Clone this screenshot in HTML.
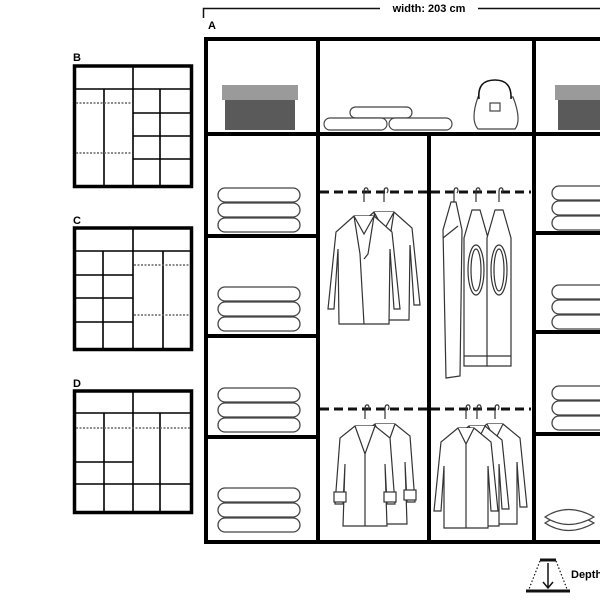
<!DOCTYPE html>
<html><head><style>html,body{margin:0;padding:0;background:#fff}svg{display:block}</style></head>
<body>
<svg width="600" height="600" viewBox="0 0 600 600" xmlns="http://www.w3.org/2000/svg" font-family="Liberation Sans, sans-serif">
<defs>
 <g id="towels" fill="#fff" stroke="#444" stroke-width="1.3">
  <rect x="0" y="30" width="82" height="14" rx="7"/>
  <rect x="0" y="15" width="82" height="14" rx="7"/>
  <rect x="0" y="0" width="82" height="14" rx="7"/>
 </g>
 <g id="hook" fill="none" stroke="#333" stroke-width="1.2"><path d="M0,12 L0,2 Q0,-3 3,-2 Q5,0 3,3"/></g>
 <g id="jacket" fill="#fff" stroke="#333" stroke-width="1.2">
  <path d="M-10,12 L-28,28 L-36,105 L-30,105 L-26,45 L-25,120 L25,120 L26,45 L30,105 L36,105 L28,28 L10,12 Z"/>
  <path d="M-10,12 L-4,50 L0,120 M10,12 L4,50 L0,55 M-10,12 L0,30 L10,12"/>
 </g>
 <g id="coat" fill="#fff" stroke="#333" stroke-width="1.2">
  <path d="M-10,12 L-25,24 L-30,90 L-22,90 L-20,50 L-22,112 L22,112 L20,50 L22,90 L30,90 L25,24 L10,12 Z"/>
  <path d="M-10,12 L0,40 L10,12 M0,40 L0,112"/>
  <rect x="-31" y="78" width="12" height="10"/><rect x="19" y="78" width="12" height="10"/>
 </g>
 <g id="shirt" fill="#fff" stroke="#333" stroke-width="1.2">
  <path d="M-8,12 L-25,26 L-32,95 L-25,95 L-22,50 L-22,112 L22,112 L22,50 L25,95 L32,95 L25,26 L8,12 Z"/>
  <path d="M-8,12 L0,28 L8,12 M0,28 L0,112"/>
 </g>
 <g id="sweater" fill="#fff" stroke="#333" stroke-width="1.2">
  <path d="M-4,12 L-12,40 L-12,168 L12,168 L12,40 L4,12 Z"/>
  <ellipse cx="0" cy="72" rx="8" ry="25"/><ellipse cx="0" cy="72" rx="5" ry="21"/>
  <path d="M-12,158 L12,158"/>
 </g>
</defs>

<path d="M203.5,18 L203.5,8.5 L380,8.5 M478,8.5 L600,8.5" stroke="#111" stroke-width="1.5" fill="none"/>
<text x="429" y="12" font-size="11" font-weight="bold" text-anchor="middle">width: 203 cm</text>
<text x="208" y="29" font-size="11" font-weight="bold">A</text>

<g stroke="#000" stroke-width="4" fill="none">
 <path d="M602,39 L206,39 L206,542 L602,542"/>
 <line x1="318" y1="39" x2="318" y2="542"/>
 <line x1="534" y1="39" x2="534" y2="542"/>
 <line x1="429" y1="134" x2="429" y2="542"/>
 <line x1="206" y1="134" x2="602" y2="134"/>
 <line x1="206" y1="236" x2="318" y2="236"/>
 <line x1="206" y1="336" x2="318" y2="336"/>
 <line x1="206" y1="437" x2="318" y2="437"/>
 <line x1="534" y1="233" x2="602" y2="233"/>
 <line x1="534" y1="332" x2="602" y2="332"/>
 <line x1="534" y1="434" x2="602" y2="434"/>
</g>

<rect x="222" y="85" width="76" height="15" fill="#9a9a9a"/>
<rect x="225" y="100" width="70" height="30" fill="#5a5a5a"/>
<rect x="555" y="85" width="50" height="15" fill="#9a9a9a"/>
<rect x="558" y="100" width="45" height="30" fill="#5a5a5a"/>
<g fill="#fff" stroke="#444" stroke-width="1.2">
 <rect x="350" y="107" width="62" height="11" rx="5.5"/>
 <rect x="324" y="118" width="63" height="12" rx="6"/>
 <rect x="389" y="118" width="63" height="12" rx="6"/>
 <path d="M478,97 L513,97 Q522,120 515,129 L478,129 Q470,120 478,97 Z"/>
 <path d="M479,99 Q477,80 495,80 Q512,80 511,99" stroke="#111" stroke-width="1.6"/>
 <rect x="490" y="103" width="10" height="8"/>
</g>

<use href="#towels" x="218" y="188"/>
<use href="#towels" x="218" y="287"/>
<use href="#towels" x="218" y="388"/>
<use href="#towels" x="218" y="488"/>
<use href="#towels" x="552" y="186"/>
<use href="#towels" x="552" y="285"/>
<use href="#towels" x="552" y="386"/>
<g fill="#fff" stroke="#444" stroke-width="1.2">
 <path d="M545,523 Q568,508 594,523 Q568,538 545,523 Z"/>
 <path d="M545,517 Q568,502 594,517 Q568,532 545,517 Z"/>
</g>

<g stroke="#111" stroke-width="3" stroke-dasharray="9,5">
 <line x1="320" y1="192" x2="427" y2="192"/>
 <line x1="431" y1="192" x2="531" y2="192"/>
 <line x1="320" y1="409" x2="427" y2="409"/>
 <line x1="431" y1="409" x2="531" y2="409"/>
</g>

<use href="#hook" x="384" y="190"/><use href="#jacket" x="384" y="200"/>
<use href="#hook" x="364" y="190"/><use href="#jacket" x="364" y="204"/>
<use href="#hook" x="454" y="190"/>
<g fill="#fff" stroke="#333" stroke-width="1.2"><path d="M451,202 L443,230 L446,378 L460,376 L462,230 L456,202 Z"/><path d="M443,238 L458,226"/></g>
<use href="#hook" x="476" y="190"/><use href="#sweater" x="476" y="198"/>
<use href="#hook" x="499" y="190"/><use href="#sweater" x="499" y="198"/>

<use href="#hook" x="385" y="407"/><use href="#coat" x="385" y="412"/>
<use href="#hook" x="365" y="407"/><use href="#coat" x="365" y="414"/>
<use href="#hook" x="495" y="407"/><use href="#shirt" x="495" y="412"/>
<use href="#hook" x="477" y="407"/><use href="#shirt" x="477" y="414"/>
<use href="#hook" x="466" y="407"/><use href="#shirt" x="466" y="416"/>

<g stroke="#111" fill="none">
 <line x1="540" y1="560" x2="556" y2="560" stroke-width="3"/>
 <line x1="526" y1="591" x2="570" y2="591" stroke-width="3"/>
 <path d="M540,561 L529,589 M556,561 L567,589" stroke-dasharray="1.5,2" stroke-width="1.2"/>
 <path d="M548,563 L548,587 M543,582 L548,588 L553,582" stroke-width="1.5"/>
</g>
<text x="571" y="578" font-size="11" font-weight="bold">Depth</text>

<g font-size="11" font-weight="bold"><text x="73" y="61">B</text><text x="73" y="224">C</text><text x="73" y="387">D</text></g>
<g stroke="#000" fill="none" stroke-width="1.6">
 <rect x="74.5" y="66" width="117" height="120.5" stroke-width="3.5"/>
 <line x1="75" y1="89" x2="191" y2="89"/>
 <line x1="133" y1="66" x2="133" y2="186"/>
 <line x1="104" y1="89" x2="104" y2="186"/>
 <line x1="160" y1="89" x2="160" y2="186"/>
 <line x1="133" y1="113" x2="191" y2="113"/>
 <line x1="133" y1="136" x2="191" y2="136"/>
 <line x1="133" y1="159" x2="191" y2="159"/>
 <rect x="74.5" y="228" width="117" height="121.5" stroke-width="3.5"/>
 <line x1="75" y1="251" x2="191" y2="251"/>
 <line x1="133" y1="228" x2="133" y2="349"/>
 <line x1="103" y1="251" x2="103" y2="349"/>
 <line x1="163" y1="251" x2="163" y2="349"/>
 <line x1="75" y1="275" x2="133" y2="275"/>
 <line x1="75" y1="298" x2="133" y2="298"/>
 <line x1="75" y1="322" x2="133" y2="322"/>
 <rect x="74.5" y="391" width="117" height="121.5" stroke-width="3.5"/>
 <line x1="75" y1="413" x2="191" y2="413"/>
 <line x1="133" y1="391" x2="133" y2="512"/>
 <line x1="104" y1="413" x2="104" y2="512"/>
 <line x1="160" y1="413" x2="160" y2="512"/>
 <line x1="75" y1="462" x2="133" y2="462"/>
 <line x1="75" y1="484" x2="191" y2="484"/>
</g>
<g stroke="#666" stroke-width="1.4" stroke-dasharray="2,1.5">
 <line x1="76" y1="103" x2="132" y2="103"/>
 <line x1="76" y1="153" x2="132" y2="153"/>
 <line x1="134" y1="265" x2="190" y2="265"/>
 <line x1="134" y1="315" x2="190" y2="315"/>
 <line x1="76" y1="428" x2="190" y2="428"/>
</g>
</svg>
</body></html>
